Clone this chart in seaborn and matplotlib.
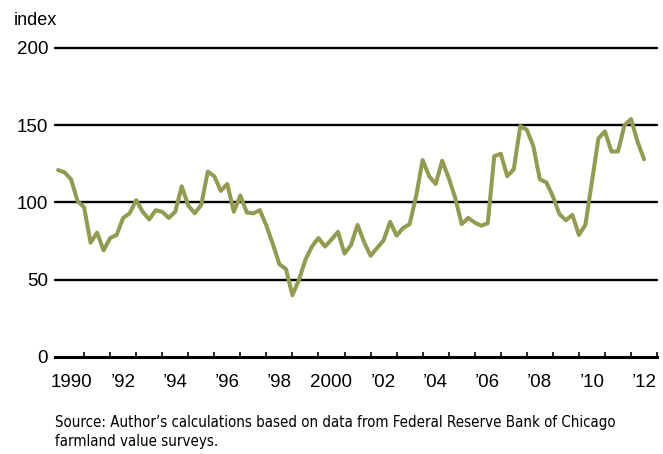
import matplotlib
matplotlib.use("Agg")
import matplotlib.pyplot as plt
import seaborn as sns
import pandas as pd
import numpy as np
from matplotlib import font_manager

# quarterly farmland value index, 1990 Q1 - 2012 Q3
values = [121, 119.5, 115, 101, 97, 74, 80.5, 69, 77, 79, 90, 93,
          101.5, 94, 89, 95, 94, 90, 94, 110.5, 98, 93, 98.5, 120,
          117, 107.5, 112, 94, 104.5, 93.5, 93, 95, 85, 73, 60, 57,
          40, 50, 63, 71.5, 77, 71.5, 76, 81, 67, 72.5, 85.5, 74.5,
          65.5, 70.5, 75.5, 87.5, 78.5, 83.5, 86, 104, 127.5, 117, 112, 127,
          116, 103, 86, 90, 87, 85, 86.5, 130, 131.5, 117, 121.5, 149.5,
          147, 136.5, 115, 113, 104, 92.5, 88.5, 92, 79, 85.5, 113.5, 141.5,
          146, 133, 133, 150, 154, 139.5, 128]
start_year = 1990
label_years = [1990, 1992, 1994, 1996, 1998, 2000, 2002, 2004, 2006, 2008, 2010, 2012]
tick_labels = ["1990", "\u201992", "\u201994", "\u201996", "\u201998", "2000",
               "\u201902", "\u201904", "\u201906", "\u201908", "\u201910", "\u201912"]
y_ticks = [0, 50, 100, 150, 200]
source = ("Source: Author\u2019s calculations based on data from Federal Reserve Bank of Chicago\n"
          "farmland value surveys.")

df = pd.DataFrame({"t": start_year + np.arange(len(values)) / 4, "index": values})

sns.set_style("white")
plt.rcParams['font.family'] = ['Liberation Sans', 'DejaVu Sans']
plt.rcParams['text.color'] = 'black'
plt.rcParams['xtick.color'] = 'black'
plt.rcParams['ytick.color'] = 'black'

# narrow face for the source note if one is around
cond = [f for f in font_manager.fontManager.ttflist
        if "Narrow" in f.name or "Condensed" in f.name or f.stretch in ("condensed", "semi-condensed")]

fig = plt.figure(figsize=(6.63, 4.54), dpi=100)
ax = fig.add_axes([0.083, 0.2137, 0.908, 0.6806])

for v in y_ticks[1:]:
    ax.axhline(v, color="black", lw=1.7, zorder=1, clip_on=False)

sns.lineplot(data=df, x="t", y="index", color="#939b50", lw=2.9, ax=ax, zorder=3)

ax.set_xlim(1989.885, 2013.0)
ax.set_ylim(0, 200)
for s in ["top", "right", "left"]:
    ax.spines[s].set_visible(False)
ax.spines["bottom"].set_linewidth(2.2)
ax.spines["bottom"].set_color("black")

ax.set_yticks(y_ticks)
ax.set_yticklabels([str(v) for v in y_ticks], fontsize=13.5)
ax.tick_params(axis="y", length=0, pad=5, labelcolor="black")

ax.set_xticks([y + 0.5 for y in label_years])
ax.set_xticklabels(tick_labels, fontsize=13.5)
ax.set_xticks(np.arange(1991, 2014), minor=True)
ax.tick_params(axis="x", which="major", length=0, pad=12, labelcolor="black")
ax.tick_params(axis="x", which="minor", direction="in", length=3.5, width=1.2,
               color="black", bottom=True)

ax.set_xlabel("")
ax.set_ylabel("")

fig.text(0.02, 0.945, "index", fontsize=13, va="baseline")
if cond:
    fig.text(0.083, 0.086, source, fontsize=10.8, family=[cond[0].name, "DejaVu Sans"],
             fontstretch=cond[0].stretch, va="top", linespacing=1.35)
else:
    fig.text(0.083, 0.086, source, fontsize=9.6, va="top", linespacing=1.5)

fig.savefig("out.png", dpi=100, facecolor="white")
